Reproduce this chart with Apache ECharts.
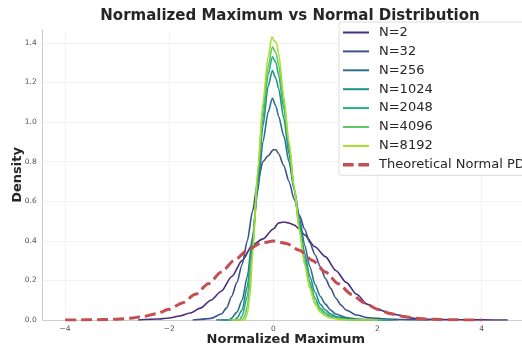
<!DOCTYPE html>
<html><head><meta charset="utf-8">
<script src="https://cdn.jsdelivr.net/npm/echarts@6/dist/echarts.min.js"></script>
<style>html,body{margin:0;padding:0;background:#fff}#c{width:522px;height:350px}</style>
</head><body><div id="c"></div>
<script>
const xTicks = [-4, -2, 0, 2, 4];
const yTicks = [0, 0.2, 0.4, 0.6, 0.8, 1.0, 1.2, 1.4];
const seriesNames = ['N=2', 'N=32', 'N=256', 'N=1024', 'N=2048', 'N=4096', 'N=8192', 'Theoretical Normal PDF'];

const n2X = [-2.6, -2.2, -2.0, -1.8, -1.6, -1.4, -1.2, -1.0, -0.8, -0.6, -0.4, -0.2, 0, 0.1, 0.2, 0.3, 0.4, 0.5, 0.6, 0.8, 1.0, 1.2, 1.4, 1.6, 1.8, 2.0, 2.2, 2.4, 2.6, 2.8, 3.0, 3.5, 4.0, 4.5];
const n2Y = [0, 0.005, 0.01, 0.02, 0.035, 0.06, 0.1, 0.145, 0.22, 0.3, 0.38, 0.41, 0.46, 0.49, 0.495, 0.49, 0.48, 0.46, 0.43, 0.37, 0.32, 0.25, 0.19, 0.13, 0.08, 0.055, 0.038, 0.025, 0.012, 0.006, 0.003, 0.001, 0.0005, 0];

const n32X = [-1.55, -1.4, -1.2, -1.0, -0.9, -0.8, -0.7, -0.6, -0.5, -0.4, -0.3, -0.2, -0.1, 0, 0.05, 0.1, 0.2, 0.3, 0.4, 0.5, 0.6, 0.7, 0.8, 0.9, 1.0, 1.1, 1.2, 1.3, 1.4, 1.6, 1.8, 2.0, 2.2, 2.5, 3.0];
const n32Y = [0, 0.003, 0.008, 0.03, 0.06, 0.12, 0.19, 0.28, 0.4, 0.55, 0.7, 0.8, 0.83, 0.86, 0.86, 0.84, 0.78, 0.7, 0.61, 0.53, 0.46, 0.39, 0.33, 0.27, 0.21, 0.16, 0.11, 0.075, 0.05, 0.025, 0.012, 0.008, 0.005, 0.002, 0];

const n256X = [-1.1, -0.85, -0.8, -0.7, -0.6, -0.5, -0.4, -0.3, -0.2, -0.1, -0.02, 0.05, 0.1, 0.2, 0.3, 0.4, 0.5, 0.6, 0.7, 0.8, 0.9, 1.0, 1.1, 1.2, 1.4, 1.6, 1.8, 2.0, 2.4];
const n256Y = [0, 0, 0.01, 0.04, 0.1, 0.22, 0.42, 0.65, 0.9, 1.05, 1.12, 1.08, 1.03, 0.93, 0.8, 0.66, 0.52, 0.38, 0.27, 0.18, 0.12, 0.08, 0.05, 0.03, 0.012, 0.005, 0.002, 0, 0];

const n1024X = [-1.0, -0.75, -0.7, -0.6, -0.5, -0.4, -0.3, -0.2, -0.1, -0.02, 0.05, 0.1, 0.2, 0.3, 0.4, 0.5, 0.6, 0.7, 0.8, 0.9, 1.0, 1.1, 1.2, 1.4, 1.6, 1.8, 2.3];
const n1024Y = [0, 0, 0.01, 0.05, 0.17, 0.4, 0.7, 0.98, 1.18, 1.26, 1.22, 1.17, 1.02, 0.84, 0.66, 0.49, 0.34, 0.22, 0.14, 0.08, 0.05, 0.03, 0.018, 0.006, 0.002, 0, 0];

const n2048X = [-0.9, -0.65, -0.6, -0.5, -0.4, -0.3, -0.2, -0.1, -0.02, 0.05, 0.1, 0.2, 0.3, 0.4, 0.5, 0.6, 0.7, 0.8, 0.9, 1.0, 1.1, 1.3, 1.5, 2.2];
const n2048Y = [0, 0, 0.02, 0.12, 0.38, 0.72, 1.02, 1.24, 1.33, 1.3, 1.24, 1.07, 0.87, 0.66, 0.47, 0.31, 0.19, 0.11, 0.06, 0.035, 0.02, 0.006, 0, 0];

const n4096X = [-0.85, -0.6, -0.55, -0.5, -0.4, -0.3, -0.2, -0.1, -0.02, 0.05, 0.1, 0.2, 0.3, 0.4, 0.5, 0.6, 0.7, 0.8, 0.9, 1.0, 1.1, 1.3, 1.5, 2.1];
const n4096Y = [0, 0, 0.02, 0.07, 0.35, 0.74, 1.06, 1.28, 1.38, 1.35, 1.29, 1.1, 0.89, 0.67, 0.46, 0.29, 0.17, 0.09, 0.05, 0.025, 0.012, 0.003, 0, 0];

const n8192X = [-0.8, -0.55, -0.5, -0.45, -0.4, -0.3, -0.2, -0.1, -0.03, 0.02, 0.06, 0.1, 0.2, 0.3, 0.4, 0.5, 0.6, 0.7, 0.8, 0.9, 1.0, 1.1, 1.3, 1.5, 2.0];
const n8192Y = [0, 0, 0.03, 0.12, 0.32, 0.76, 1.1, 1.33, 1.43, 1.41, 1.4, 1.35, 1.13, 0.9, 0.67, 0.45, 0.28, 0.16, 0.08, 0.04, 0.02, 0.01, 0.002, 0, 0];

const normX = [-4, -3.75, -3.5, -3.25, -3, -2.75, -2.5, -2.25, -2, -1.75, -1.5, -1.25, -1, -0.75, -0.5, -0.25, 0, 0.25, 0.5, 0.75, 1, 1.25, 1.5, 1.75, 2, 2.25, 2.5, 2.75, 3, 3.25, 3.5, 3.75, 4];
const normY = [0.0001, 0.0004, 0.0009, 0.002, 0.0044, 0.0091, 0.0175, 0.0317, 0.054, 0.0863, 0.1295, 0.1826, 0.242, 0.3011, 0.3521, 0.3867, 0.3989, 0.3867, 0.3521, 0.3011, 0.242, 0.1826, 0.1295, 0.0863, 0.054, 0.0317, 0.0175, 0.0091, 0.0044, 0.002, 0.0009, 0.0004, 0.0001];

const colors = ['#472d7b', '#3b528b', '#2c728e', '#21918c', '#28ae80', '#5ec962', '#addc30', '#c44e52'];
const xsList = [n2X, n32X, n256X, n1024X, n2048X, n4096X, n8192X, normX];
const ysList = [n2Y, n32Y, n256Y, n1024Y, n2048Y, n4096Y, n8192Y, normY];

const font = 'DejaVu Sans';
const solidIcon = 'path://M0,0H26V2H0Z';
const dashedIcon = 'path://M0,0H9V3H0ZM13,0H22V3H13Z';
const chart = echarts.init(document.getElementById('c'), null, {renderer: 'canvas'});
const series = seriesNames.map((name, i) => {
  const dashed = i === 7;
  return {
    name: name,
    type: 'line',
    data: xsList[i].map((x, k) => [x, ysList[i][k]]),
    symbol: 'none',
    showSymbol: false,
    smooth: 0.25,
    smoothMonotone: 'x',
    color: colors[i],
    lineStyle: {color: colors[i], width: dashed ? 3 : 1.6, type: dashed ? [11, 5] : 'solid'},
    z: 2 + i,
    animation: false
  };
});
const fmt = v => String(v).replace('-', '\u2212');
chart.setOption({
  animation: false,
  textStyle: {fontFamily: font},
  title: {
    text: 'Normalized Maximum vs Normal Distribution',
    left: 285, top: 4, textAlign: 'center',
    textStyle: {fontFamily: font, fontSize: 15, fontWeight: 'bold', color: '#262626'}
  },
  legend: {
    orient: 'vertical', left: 339, top: 22,
    padding: [4, 4, 4, 4],
    itemWidth: 26, itemHeight: 14, itemGap: 5.9,
    backgroundColor: '#ffffff', borderColor: '#dddddd', borderWidth: 1, borderRadius: 3,
    textStyle: {fontFamily: font, fontSize: 13, color: '#262626', padding: [0, 0, 0, 5]},
    data: seriesNames.map((n, i) => ({name: n, icon: i === 7 ? dashedIcon : solidIcon, itemStyle: {color: colors[i]}}))
  },
  grid: {left: 42.7, top: 30, width: 486.3, height: 290, containLabel: false, outerBoundsMode: 'none'},
  xAxis: {
    type: 'value', min: -4.43, max: 4.91,
    name: 'Normalized Maximum', nameLocation: 'middle', nameGap: 13, nameMoveOverlap: false,
    nameTextStyle: {fontFamily: font, fontSize: 13, fontWeight: 'bold', color: '#262626'},
    axisLine: {show: true, onZero: false, lineStyle: {color: '#cccccc', width: 1}},
    axisTick: {show: false, customValues: xTicks},
    axisLabel: {customValues: xTicks, formatter: fmt, fontSize: 7.5, color: '#555555', margin: 5},
    splitLine: {show: true, customValues: xTicks, lineStyle: {color: '#efefef', width: 0.8}}
  },
  yAxis: {
    type: 'value', min: 0, max: 1.465,
    name: 'Density', nameLocation: 'middle', nameGap: 19, nameRotate: 90, nameMoveOverlap: false,
    nameTextStyle: {fontFamily: font, fontSize: 13, fontWeight: 'bold', color: '#262626'},
    axisLine: {show: true, onZero: false, lineStyle: {color: '#cccccc', width: 1}},
    axisTick: {show: false, customValues: yTicks},
    axisLabel: {customValues: yTicks, formatter: v => v.toFixed(1), fontSize: 7.5, color: '#555555', margin: 6},
    splitLine: {show: true, customValues: yTicks, lineStyle: {color: '#efefef', width: 0.8}}
  },
  series: series
});
</script></body></html>
